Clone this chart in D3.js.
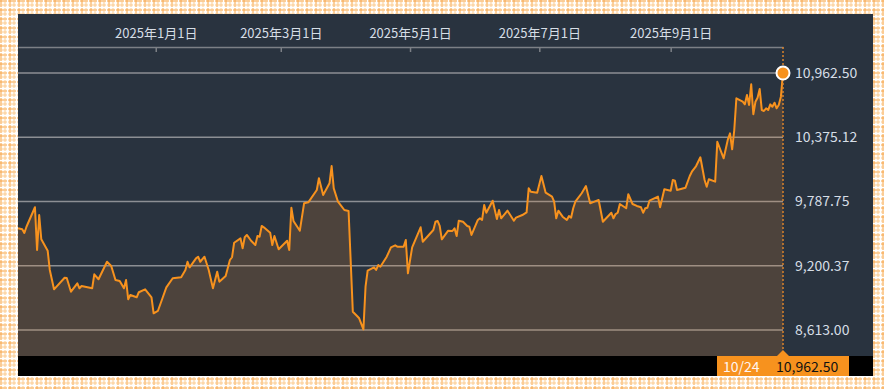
<!DOCTYPE html>
<html><head><meta charset="utf-8">
<script src="https://cdn.jsdelivr.net/npm/d3@7"></script>
<style>
html,body{margin:0;padding:0;background:#fff;}
svg{display:block;}
text{font-family:"Noto Sans CJK JP","Noto Sans",sans-serif;}
</style></head>
<body>
<svg id="chart" width="884" height="389"></svg>
<script>
// ---- data (day offsets relative to 2025-01-01, closing values) ----
const dayOffsets = [
 -65,-63,-62,-61,-57,-56,-55,-54,-51,-50,
 -48,-43,-42,-40,-37,-36,-35,-30,-29,-27,
 -23,-21,-19,-17,-15,-14,-13,-12,-9,-8,
 -5,-2,-1,1,3,5,8,12,14,15,
 16,19,20,21,23,25,27,29,30,33,
 35,36,37,40,41,42,43,45,47,48,
 49,50,51,54,55,56,58,60,62,63,
 64,65,68,70,72,76,77,79,82,83,
 84,86,89,91,93,95,96,98,99,100,
 103,104,105,106,109,111,113,114,117,118,
 119,121,125,126,131,132,133,134,135,138,
 140,141,142,143,145,147,148,149,152,153,
 154,155,156,159,161,162,163,166,169,170,
 173,175,176,177,180,182,184,187,188,189,
 190,192,194,195,196,197,198,201,203,205,
 209,211,215,216,217,218,219,222,223,225,
 227,229,230,231,232,233,237,238,240,243,
 244,245,246,250,252,253,255,257,259,260,
 261,264,265,268,270,271,272,273,274,277,
 278,279,280,281,282,283,284,285,286,287,
 288,289,290,291,292,293,294,295,296
];
const values = [
 9543,9534,9500,9557,9735,9344,9664,9442,9338,9162,
 8985,9091,9088,8963,9040,8994,9015,8994,9122,9077,
 9237,9198,9070,9061,8994,9070,8894,8933,8912,8958,
 8985,8912,8766,8787,8894,9003,9086,9095,9162,9237,
 9186,9268,9283,9237,9283,9162,8994,9146,9055,9107,
 9253,9278,9411,9451,9360,9461,9482,9429,9390,9472,
 9466,9564,9552,9503,9390,9472,9351,9390,9429,9344,
 9731,9610,9521,9771,9780,9893,10000,9847,9954,10112,
 9908,9786,9710,9701,8780,8741,8720,8619,9009,9155,
 9186,9162,9207,9192,9283,9369,9387,9375,9375,9436,
 9131,9369,9552,9420,9527,9603,9610,9564,9442,9521,
 9518,9543,9472,9612,9603,9564,9557,9482,9619,9634,
 9619,9756,9685,9795,9628,9710,9634,9704,9612,9640,
 9664,9689,9908,9877,9868,10021,9868,9832,9786,9634,
 9704,9649,9619,9655,9640,9726,9786,9863,9929,9771,
 9802,9603,9685,9634,9673,9685,9765,9726,9854,9765,
 9747,9735,9685,9726,9731,9795,9832,9735,9899,9886,
 9984,9977,9893,9914,10021,10060,10112,10192,9984,9923,
 9991,9969,10334,10183,10356,10411,10265,10441,10731,10700,
 10676,10761,10670,10859,10585,10700,10737,10816,10624,10615,
 10640,10624,10676,10654,10691,10640,10670,10746,10962.5
];
const xTickDates = ["2025-01-01","2025-03-01","2025-05-01","2025-07-01","2025-09-01"];
const xTickLabels = ["2025年1月1日","2025年3月1日","2025年5月1日","2025年7月1日","2025年9月1日"];
const yTickValues = [8613, 9200.375, 9787.75, 10375.125, 10962.5];
const yTickLabels = ["8,613.00","9,200.37","9,787.75","10,375.12","10,962.50"];
const lastDateLabel = "10/24";
const lastValueLabel = "10,962.50";

// ---- layout ----
const W = 884, H = 389;
const panel = {x:18, y:14, w:855, h:342};
const plotL = 18, plotR = 783, plotTop = 73, plotBot = 330, areaBottom = 356, axisY = 47;
const barH = 20;

const svg = d3.select("#chart");
const defs = svg.append("defs");
const pat = defs.append("pattern").attr("id","plaid").attr("patternUnits","userSpaceOnUse")
  .attr("width",9).attr("height",9);
pat.append("rect").attr("width",9).attr("height",9).attr("fill","#fffaf3");
pat.append("rect").attr("x",0).attr("y",0).attr("width",2).attr("height",9).attr("fill","#f7a445").attr("opacity",0.5);
pat.append("rect").attr("x",0).attr("y",0).attr("width",9).attr("height",2).attr("fill","#f7a445").attr("opacity",0.5);
pat.append("rect").attr("x",4).attr("y",0).attr("width",2).attr("height",9).attr("fill","#fbc98a").attr("opacity",0.45);
pat.append("rect").attr("x",0).attr("y",4).attr("width",9).attr("height",2).attr("fill","#fbc98a").attr("opacity",0.45);
pat.append("rect").attr("x",7).attr("y",0).attr("width",1).attr("height",9).attr("fill","#ffffff");
pat.append("rect").attr("x",0).attr("y",7).attr("width",9).attr("height",1).attr("fill","#ffffff");

svg.append("rect").attr("width",W).attr("height",H).attr("fill","url(#plaid)");
svg.append("rect").attr("x",panel.x).attr("y",panel.y).attr("width",panel.w).attr("height",panel.h).attr("fill","#29333f");
svg.append("rect").attr("x",panel.x).attr("y",areaBottom).attr("width",panel.w).attr("height",barH).attr("fill","#000");

const base = new Date(2025,0,1);
const dates = dayOffsets.map(d => d3.timeDay.offset(base, d));
const data = dates.map((d,i) => ({date:d, value:values[i]}));

const x = d3.scaleTime()
  .domain([dates[0], dates[dates.length-1]])
  .range([plotL, plotR]);
const y = d3.scaleLinear().domain([yTickValues[0], yTickValues[yTickValues.length-1]]).range([plotBot, plotTop]);

// gridlines
svg.append("g").selectAll("line").data(yTickValues).join("line")
  .attr("x1",plotL).attr("x2",plotR)
  .attr("y1",d=>y(d)).attr("y2",d=>y(d))
  .attr("stroke","#8c8f94").attr("stroke-width",1.6);

// area + line
const area = d3.area().x(d=>x(d.date)).y0(areaBottom).y1(d=>y(d.value));
svg.append("path").datum(data).attr("d",area).attr("fill","rgb(255,150,50)").attr("fill-opacity",0.17);
const line = d3.line().x(d=>x(d.date)).y(d=>y(d.value));
svg.append("path").datum(data).attr("d",line).attr("fill","none")
  .attr("stroke","#f7921e").attr("stroke-width",2).attr("stroke-linejoin","round");

// top axis
const tickDates = xTickDates.map(s => d3.timeParse("%Y-%m-%d")(s));
const xAxis = d3.axisTop(x).tickValues(tickDates)
  .tickFormat((d,i)=>xTickLabels[i]).tickSizeInner(-5).tickSizeOuter(0).tickPadding(9);
const gx = svg.append("g").attr("transform",`translate(0,${axisY})`).call(xAxis);
gx.select(".domain").attr("stroke","#7c8086").attr("stroke-width",1.5);
gx.selectAll(".tick line").attr("stroke","#7c8086").attr("stroke-width",1.5);
gx.selectAll(".tick text").attr("fill","#d6dee6").attr("font-size",13)
  .attr("font-family","'Noto Sans CJK JP','Noto Sans',sans-serif");

// right axis labels
const yAxis = d3.axisRight(y).tickValues(yTickValues).tickFormat((d,i)=>yTickLabels[i])
  .tickSize(0).tickPadding(12);
const gy = svg.append("g").attr("transform",`translate(${plotR},0)`).call(yAxis);
gy.select(".domain").remove();
gy.selectAll(".tick text").attr("fill","#d6dee6").attr("font-size",14)
  .attr("font-family","'Noto Sans CJK JP','Noto Sans',sans-serif");

// dotted current line
const last = data[data.length-1];
const lx = x(last.date);
svg.append("line").attr("x1",lx).attr("x2",lx).attr("y1",axisY).attr("y2",areaBottom)
  .attr("stroke","#d9832b").attr("stroke-width",1.5).attr("stroke-dasharray","2,2");

// marker
svg.append("circle").attr("cx",lx).attr("cy",y(last.value)).attr("r",6.5)
  .attr("fill","#f7921e").attr("stroke","#fff").attr("stroke-width",2);

// bottom label
const boxL = lx - 66, boxR = lx + 66;
svg.append("rect").attr("x",boxL).attr("y",areaBottom).attr("width",boxR-boxL).attr("height",barH).attr("fill","#f7921e");
svg.append("path").attr("d",`M${lx-6},${areaBottom}L${lx},${areaBottom-6}L${lx+6},${areaBottom}Z`).attr("fill","#f7921e");
svg.append("text").attr("x",boxL+6).attr("y",areaBottom+15.5).attr("fill","#fff4f0").attr("font-size",14).text(lastDateLabel);
svg.append("text").attr("x",lx-7).attr("y",areaBottom+15.5).attr("fill","#111").attr("font-size",14).text(lastValueLabel);
</script>
</body></html>
